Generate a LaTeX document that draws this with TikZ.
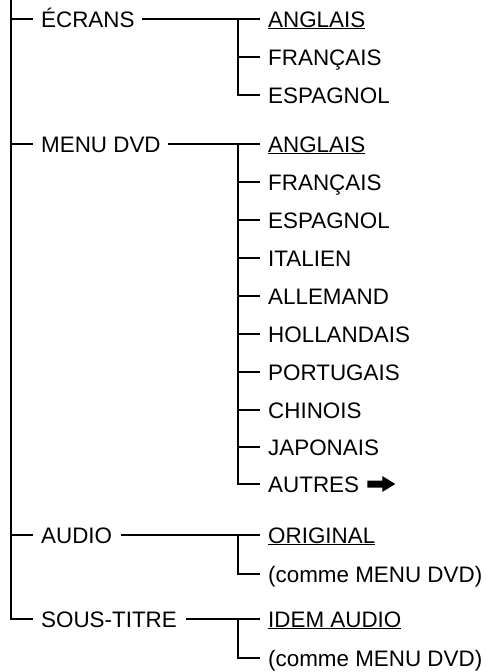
\documentclass[tikz,border=0pt]{standalone}
\usepackage{fontspec}
\setmainfont{Liberation Sans}
\begin{document}
\begin{tikzpicture}[x=1pt,y=-1pt,
  lab/.style={anchor=west,inner xsep=0pt,inner ysep=0pt,text height=16pt,text depth=0pt,font=\fontsize{22.4}{27}\selectfont},
  conn/.style={line width=1.2pt,line cap=butt,line join=miter}]
\useasboundingbox (0,0) rectangle (486,672);
% level 1
\coordinate (top) at (11,0);
\node[lab] (ecr) at (41,19) {ÉCRANS};
\node[lab] (men) at (41,144) {MENU DVD};
\node[lab] (aud) at (41,535) {AUDIO};
\node[lab] (sst) at (41,619) {SOUS-TITRE};
% sub verticals
\coordinate (ev) at (238,19);
\coordinate (mv) at (238,144);
\coordinate (av) at (238,535);
\coordinate (sv) at (238,619);
% ecrans items
\node[lab] (e1) at (268,19) {\underline{ANGLAIS}};
\node[lab] (e2) at (268,57) {FRANÇAIS};
\node[lab] (e3) at (268,95) {ESPAGNOL};
% menu items
\node[lab] (m1) at (268,144) {\underline{ANGLAIS}};
\node[lab] (m2) at (268,182) {FRANÇAIS};
\node[lab] (m3) at (268,220) {ESPAGNOL};
\node[lab] (m4) at (268,258) {ITALIEN};
\node[lab] (m5) at (268,296) {ALLEMAND};
\node[lab] (m6) at (268,334) {HOLLANDAIS};
\node[lab] (m7) at (268,372) {PORTUGAIS};
\node[lab] (m8) at (268,410) {CHINOIS};
\node[lab] (m9) at (268,447) {JAPONAIS};
\node[lab] (m10) at (268,484) {AUTRES};
% audio items
\node[lab] (a1) at (268,535) {\underline{ORIGINAL}};
\node[lab] (a2) at (268,574) {(comme MENU DVD)};
% sous-titre items
\node[lab] (s1) at (268,619) {\underline{IDEM AUDIO}};
\node[lab] (s2) at (268,658) {(comme MENU DVD)};
% main line
\draw[conn] (top) -- (top |- sst.west) -- ([xshift=-8pt]sst.west);
\foreach \n in {ecr,men,aud}
  \draw[conn] (top |- \n.west) -- ([xshift=-8pt]\n.west);
% level1 to sub verticals
\draw[conn] ([xshift=7pt]ecr.east) -- (ev);
\draw[conn] ([xshift=7pt]men.east) -- (mv);
\draw[conn] ([xshift=9pt]aud.east) -- (av);
\draw[conn] ([xshift=9pt]sst.east) -- (sv);
% sub trees
\draw[conn] (ev) -- (ev |- e3.west) -- ([xshift=-8pt]e3.west);
\foreach \n in {e1,e2} \draw[conn] (ev |- \n.west) -- ([xshift=-8pt]\n.west);
\draw[conn] (mv) -- (mv |- m10.west) -- ([xshift=-8pt]m10.west);
\foreach \n in {m1,m2,m3,m4,m5,m6,m7,m8,m9} \draw[conn] (mv |- \n.west) -- ([xshift=-8pt]\n.west);
\draw[conn] (av) -- (av |- a2.west) -- ([xshift=-8pt]a2.west);
\draw[conn] (av |- a1.west) -- ([xshift=-8pt]a1.west);
\draw[conn] (sv) -- (sv |- s2.west) -- ([xshift=-8pt]s2.west);
\draw[conn] (sv |- s1.west) -- ([xshift=-8pt]s1.west);
% arrow after AUTRES
\fill ([xshift=8pt]m10.east) ++(0,-3.5) -- ++(15,0) -- ++(0,-4.5) -- ++(13,8) -- ++(-13,8) -- ++(0,-4.5) -- ++(-15,0) -- cycle;
\end{tikzpicture}
\end{document}
